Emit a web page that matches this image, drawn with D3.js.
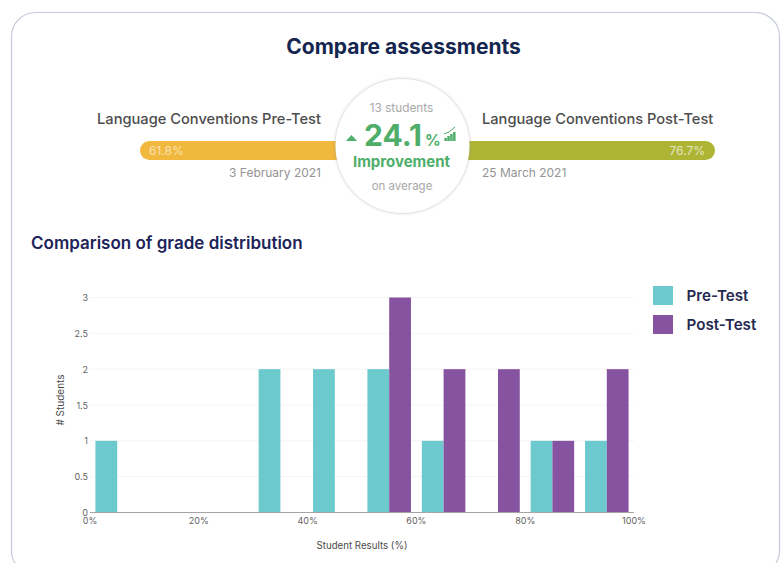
<!DOCTYPE html>
<html lang="en">
<head>
<meta charset="UTF-8">
<title>Compare assessments</title>
<script src="https://cdn.jsdelivr.net/npm/d3@7"></script>
<style>
    html, body { margin: 0; padding: 0; background: #fff; overflow: hidden; }
    svg { display: block; font-family: Inter, "Noto Sans", sans-serif; }
    .tick-label { font-size: 9px; fill: #5f5f5f; }
</style>
</head>
<body>
<script>
    // Values
    var binStarts = [0, 10, 20, 30, 40, 50, 60, 70, 80, 90];
    var preTest = [1, 0, 0, 2, 2, 2, 1, 0, 1, 1];
    var postTest = [0, 0, 0, 0, 0, 3, 2, 2, 1, 2];
    var seriesNames = ["Pre-Test", "Post-Test"];
    var seriesValues = [preTest, postTest];
    var seriesColors = ["#6cc9ce", "#85539f"];
    var xTicks = [0, 20, 40, 60, 80, 100];
    var yTicks = [0, 0.5, 1, 1.5, 2, 2.5, 3];
    var preAverage = 61.8;
    var postAverage = 76.7;
    var improvement = 24.1;

    var width = 784, height = 563;

    var svg = d3.select("body").append("svg")
        .attr("width", width)
        .attr("height", height);

    // Card behind everything
    svg.append("rect")
        .attr("x", 11.5).attr("y", 12.5)
        .attr("width", 768).attr("height", 562)
        .attr("rx", 24)
        .attr("fill", "#fff")
        .attr("stroke", "#c6cbdc")
        .attr("stroke-width", 1.2);

    svg.append("text")
        .attr("x", 403.5).attr("y", 54)
        .attr("text-anchor", "middle")
        .attr("font-size", 21)
        .attr("font-weight", 700)
        .attr("fill", "#14264f")
        .text("Compare assessments");

    // Pre / post summary pills
    var pillLeft = 140, pillRight = 715, pillTop = 141, pillHeight = 19;
    var midX = 402.5;
    svg.append("rect")
        .attr("x", pillLeft).attr("y", pillTop)
        .attr("width", midX - pillLeft).attr("height", pillHeight)
        .attr("rx", pillHeight / 2)
        .attr("fill", "#f1b83e");
    svg.append("rect")
        .attr("x", midX).attr("y", pillTop)
        .attr("width", pillRight - midX).attr("height", pillHeight)
        .attr("rx", pillHeight / 2)
        .attr("fill", "#aeb535");

    svg.append("text").attr("x", 149).attr("y", 155)
        .attr("font-size", 12).attr("fill", "#fff").attr("fill-opacity", 0.6)
        .text(preAverage + "%");
    svg.append("text").attr("x", 705).attr("y", 155)
        .attr("text-anchor", "end")
        .attr("font-size", 12).attr("fill", "#fff").attr("fill-opacity", 0.7)
        .text(postAverage + "%");

    svg.append("text").attr("x", 321).attr("y", 124)
        .attr("text-anchor", "end")
        .attr("font-size", 14.65).attr("font-weight", 500).attr("fill", "#4d4d4d")
        .text("Language Conventions Pre-Test");
    svg.append("text").attr("x", 482).attr("y", 124)
        .attr("font-size", 14.65).attr("font-weight", 500).attr("fill", "#4d4d4d")
        .text("Language Conventions Post-Test");
    svg.append("text").attr("x", 321).attr("y", 177)
        .attr("text-anchor", "end")
        .attr("font-size", 12).attr("fill", "#949494")
        .text("3 February 2021");
    svg.append("text").attr("x", 482).attr("y", 177)
        .attr("font-size", 12).attr("fill", "#949494")
        .text("25 March 2021");

    // Centre circle
    var defs = svg.append("defs");
    var shadow = defs.append("filter").attr("id", "circleShadow")
        .attr("x", "-20%").attr("y", "-20%").attr("width", "140%").attr("height", "140%");
    shadow.append("feDropShadow")
        .attr("dx", 0).attr("dy", 0).attr("stdDeviation", 1.6)
        .attr("flood-color", "#8c8680").attr("flood-opacity", 0.6);

    svg.append("circle")
        .attr("cx", midX).attr("cy", 146).attr("r", 67)
        .attr("fill", "#fff")
        .attr("filter", "url(#circleShadow)");

    var green = "#4fae69";
    svg.append("text").attr("x", 401.5).attr("y", 112)
        .attr("text-anchor", "middle")
        .attr("font-size", 11.8).attr("fill", "#a8a8a8")
        .text("13 students");
    svg.append("path")
        .attr("d", d3.symbol(d3.symbolTriangle, 30)())
        .attr("transform", "translate(351.5,139) scale(1.35,0.85)")
        .attr("fill", green);
    svg.append("text").attr("x", 364).attr("y", 146)
        .attr("font-size", 30).attr("font-weight", 700).attr("fill", green)
        .text(improvement);
    svg.append("text").attr("x", 425).attr("y", 146)
        .attr("font-size", 15.5).attr("font-weight", 700).attr("fill", green)
        .text("%");

    // Little rising-bars icon next to the percentage
    var iconBars = [3, 5, 7, 9];
    var iconX = d3.scaleBand().domain(d3.range(iconBars.length)).range([444, 456]).padding(0.15);
    svg.append("g").selectAll("rect")
        .data(iconBars).enter().append("rect")
        .attr("x", (d, i) => iconX(i))
        .attr("y", d => 141 - d)
        .attr("width", iconX.bandwidth())
        .attr("height", d => d)
        .attr("fill", green);
    svg.append("path")
        .attr("d", d3.line()([[444, 134], [449, 132], [455, 127]]))
        .attr("fill", "none")
        .attr("stroke", green)
        .attr("stroke-width", 1);

    svg.append("text").attr("x", 401.5).attr("y", 167)
        .attr("text-anchor", "middle")
        .attr("font-size", 15).attr("font-weight", 700).attr("fill", green)
        .text("Improvement");
    svg.append("text").attr("x", 402).attr("y", 190)
        .attr("text-anchor", "middle")
        .attr("font-size", 11.5).attr("fill", "#a8a8a8")
        .text("on average");

    svg.append("text")
        .attr("x", 31).attr("y", 249)
        .attr("font-size", 17)
        .attr("font-weight", 600)
        .attr("fill", "#1c2459")
        .text("Comparison of grade distribution");

    // Histogram
    var plot = { left: 90, right: 634, top: 297.5, bottom: 512.5 };

    var x = d3.scaleLinear().domain([0, 100]).range([plot.left, plot.right]);
    var y = d3.scaleLinear().domain([0, 3]).range([plot.bottom, plot.top]);
    var binWidth = x(10) - x(0);
    var inner = d3.scaleBand()
        .domain(seriesNames)
        .range([0, binWidth])
        .paddingOuter(0.25)
        .paddingInner(0);

    svg.append("g").selectAll("line")
        .data(yTicks.filter(d => d > 0))
        .enter().append("line")
        .attr("x1", plot.left).attr("x2", plot.right)
        .attr("y1", d => y(d)).attr("y2", d => y(d))
        .attr("stroke", "#f4f4f4");

    seriesNames.forEach(function (name, s) {
        svg.append("g").selectAll("rect")
            .data(seriesValues[s])
            .enter().append("rect")
            .attr("x", (d, i) => x(binStarts[i]) + inner(name))
            .attr("y", d => y(d))
            .attr("width", inner.bandwidth())
            .attr("height", d => y(0) - y(d))
            .attr("fill", seriesColors[s]);
    });

    svg.append("line")
        .attr("x1", plot.left).attr("x2", plot.right)
        .attr("y1", plot.bottom).attr("y2", plot.bottom)
        .attr("stroke", "#a9a4a4")
        .attr("stroke-width", 1.2);

    svg.append("g").selectAll("text")
        .data(yTicks).enter().append("text")
        .attr("class", "tick-label")
        .attr("x", 88)
        .attr("y", d => y(d) + 3.5)
        .attr("text-anchor", "end")
        .text(d => d);

    svg.append("g").selectAll("text")
        .data(xTicks).enter().append("text")
        .attr("class", "tick-label")
        .attr("x", d => x(d))
        .attr("y", 523.5)
        .attr("text-anchor", "middle")
        .text(d => d + "%");

    svg.append("text")
        .attr("x", 362).attr("y", 549)
        .attr("text-anchor", "middle")
        .attr("font-size", 9.7).attr("fill", "#4a4a4a")
        .text("Student Results (%)");

    svg.append("text")
        .attr("transform", "translate(64,400) rotate(-90)")
        .attr("text-anchor", "middle")
        .attr("font-size", 10).attr("fill", "#4a4a4a")
        .text("# Students");

    // Legend
    var legendY = d3.scalePoint().domain(seriesNames).range([286, 315]);
    var legend = svg.append("g").selectAll("g")
        .data(seriesNames).enter().append("g")
        .attr("transform", d => "translate(653," + legendY(d) + ")");
    legend.append("rect")
        .attr("width", 20).attr("height", 19)
        .attr("fill", (d, i) => seriesColors[i]);
    legend.append("text")
        .attr("x", 33.5).attr("y", 15)
        .attr("font-size", 15.2)
        .attr("font-weight", 600)
        .attr("fill", "#26294f")
        .text(d => d);
</script>
</body>
</html>
